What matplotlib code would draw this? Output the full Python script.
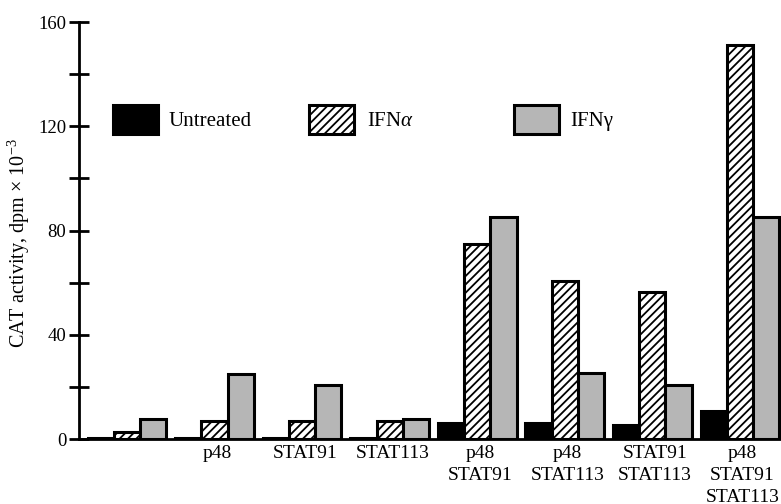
import matplotlib
matplotlib.use("Agg")
import matplotlib.pyplot as plt
from matplotlib.patches import Rectangle
from matplotlib.ticker import MultipleLocator
import numpy as np

plt.rcParams['font.family'] = ['Liberation Serif', 'DejaVu Serif']
plt.rcParams['mathtext.fontset'] = 'custom'
plt.rcParams['mathtext.rm'] = 'Liberation Serif'
plt.rcParams['mathtext.it'] = 'Liberation Serif:italic'
plt.rcParams['hatch.linewidth'] = 1.3

# ---- data ----
groups = ["", "p48", "STAT91", "STAT113", "p48\nSTAT91", "p48\nSTAT113",
          "STAT91\nSTAT113", "p48\nSTAT91\nSTAT113"]
untreated = [0.5, 0.5, 0.5, 0.5, 6.0, 6.0, 5.4, 10.8]
ifn_alpha = [2.5, 7.0, 7.0, 7.0, 75.0, 60.5, 56.5, 151.0]
ifn_gamma = [7.7, 25.0, 20.8, 7.7, 85.0, 25.4, 20.8, 85.0]
series_names = ["Untreated", r"IFN$\alpha$", "IFN\u03b3"]
y_major = [0, 40, 80, 120, 160]
y_label = r"CAT activity, dpm $\times$ 10$^{-3}$"

# ---- styles ----
EDGE = 2.2
styles = [
    dict(facecolor="black", edgecolor="black", hatch=None),
    dict(facecolor="white", edgecolor="black", hatch="////"),
    dict(facecolor="#b6b6b6", edgecolor="black", hatch=None),
]

fig = plt.figure(figsize=(7.81, 5.04), dpi=100)
ax = fig.add_axes([79/781, (504-439)/504, (781-79)/781, (439-22)/504])

step = 3.34
x = np.arange(len(groups)) * step
width = 1.0
for i, vals in enumerate([untreated, ifn_alpha, ifn_gamma]):
    ax.bar(x + (i - 1) * width, vals, width=width, linewidth=EDGE, zorder=2,
           **styles[i])

ax.set_xlim(-1.83, 24.95)
ax.set_ylim(0, 160)

# axes styling
for s in ["top", "right"]:
    ax.spines[s].set_visible(False)
for s in ["left", "bottom"]:
    ax.spines[s].set_linewidth(2.0)
    ax.spines[s].set_zorder(3)

ax.set_yticks(y_major)
ax.set_yticklabels([str(v) for v in y_major])
ax.yaxis.set_minor_locator(MultipleLocator(20))
ax.tick_params(axis="y", which="both", direction="inout", length=14.5,
               width=2.0, labelsize=13.5, pad=2)

# category labels under each group
ax.set_xticks([])
for xi, lab in zip(x, groups):
    ax.annotate(lab, xy=(xi + 0.1, 0), xycoords=ax.get_xaxis_transform(),
                xytext=(0, -4), textcoords="offset points",
                ha="center", va="top", fontsize=14, linespacing=1.42,
                annotation_clip=False)

fig.text(19/781, 1 - 243/504, y_label, rotation=90, ha="center", va="center",
         fontsize=14.5)

# ---- legend (manual) ----
box_x = [0.0484, 0.3276, 0.6197]
text_x = [0.1268, 0.410, 0.6994]
for i in range(3):
    r = Rectangle((box_x[i], 0.731), 0.064, 0.069, transform=ax.transAxes,
                  linewidth=EDGE, clip_on=False, zorder=4, **styles[i])
    ax.add_patch(r)
    ax.text(text_x[i], 0.762, series_names[i], transform=ax.transAxes,
            ha="left", va="center", fontsize=15)

fig.savefig("out.png", dpi=100)
